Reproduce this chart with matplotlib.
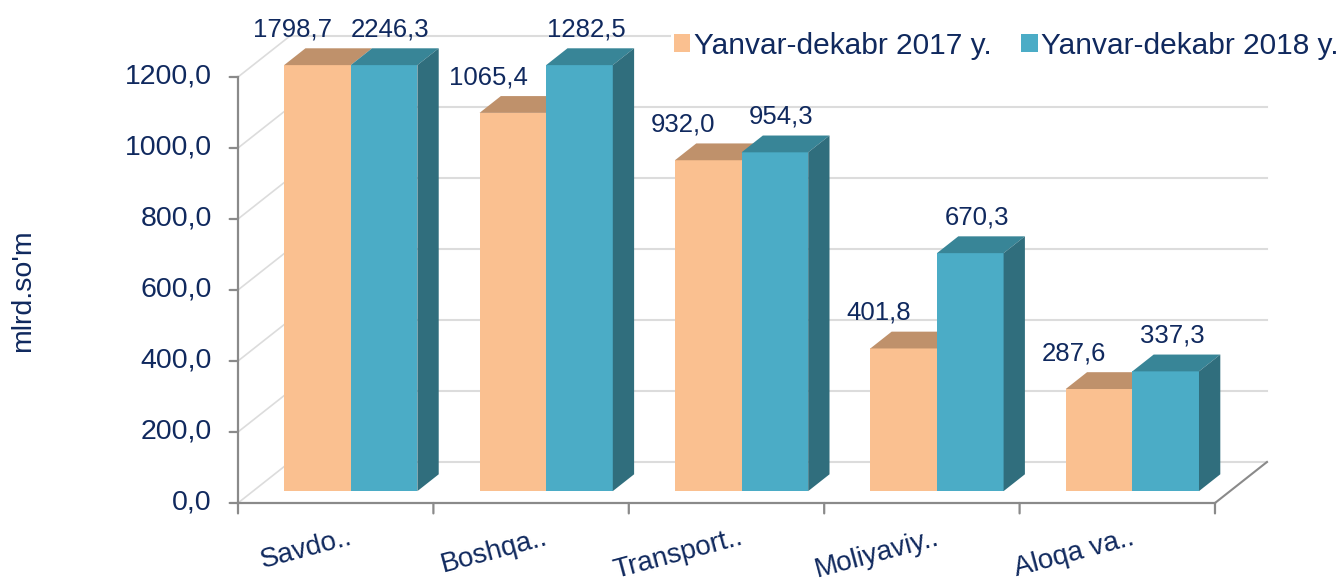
import matplotlib
matplotlib.use('Agg')
import matplotlib.pyplot as plt
from matplotlib.patches import Polygon, Patch
from matplotlib.transforms import offset_copy

plt.rcParams['font.family'] = ['Liberation Sans', 'DejaVu Sans']

# данные
categories = ['Savdo..', 'Boshqa..', 'Transport..', 'Moliyaviy..', 'Aloqa va..']
values_2017 = [1798.7, 1065.4, 932.0, 401.8, 287.6]
values_2018 = [2246.3, 1282.5, 954.3, 670.3, 337.3]
series_names = ['Yanvar-dekabr 2017 y.', 'Yanvar-dekabr 2018 y.']
y_ticks = [0, 200, 400, 600, 800, 1000, 1200]
AXIS_MAX = 1200

TXT = '#10295e'
ORANGE = ('#fac090', '#bf916b')
TEAL = ('#4bacc6', '#388597', '#306e7d')
GRID = '#dcdcdc'
AXC = '#8a8a8a'

# псевдо-3D: смещение задней стенки (в единицах осей)
DX = 0.266
DY = 115.5
F0, F1 = 0.29, 0.70
W = 0.341


def proj(x, v, f):
    return (x + f * DX, v + f * DY)


fig = plt.figure(figsize=(13.42, 5.84), dpi=100)
ax = fig.add_axes([0, 0, 1, 1])
ax.set_xlim(-1.718, 5.150)
ax.set_ylim(-228.2, 1416.9)
ax.axis('off')

n = len(categories)
left, right = -0.5, n - 0.5

# стенки и сетка
for t in y_ticks:
    bx0, by = proj(left, t, 1)
    bx1, _ = proj(right, t, 1)
    ax.plot([left, bx0], [t, by], color=GRID, lw=1.2, zorder=1)
    ax.plot([bx0, bx1], [by, by], color=GRID, lw=1.5, zorder=1)
rx, ry = proj(right, 0, 1)
ax.plot([right, rx], [0, ry], color=AXC, lw=1.5, zorder=1)

# оси
ax.plot([left, left], [0, AXIS_MAX], color=AXC, lw=1.6, zorder=2)
ax.plot([left, right], [0, 0], color=AXC, lw=1.6, zorder=2)
lab_left = offset_copy(ax.transData, fig, x=-26, y=0, units='dots')
for t in y_ticks:
    ax.text(left, t, f'{t:.1f}'.replace('.', ','), transform=lab_left,
            ha='right', va='center', fontsize=20.5, color=TXT)
    ax.annotate('', xy=(left, t), xytext=(-6, 0), textcoords='offset points',
                arrowprops=dict(arrowstyle='-', color=AXC, lw=1.6,
                                shrinkA=0, shrinkB=0))
for k in range(n + 1):
    ax.annotate('', xy=(left + k, 0), xytext=(0, -7.5), textcoords='offset points',
                arrowprops=dict(arrowstyle='-', color=AXC, lw=1.6,
                                shrinkA=0, shrinkB=0))

# подписи категорий
cat_tr = offset_copy(ax.transData, fig, x=18, y=-41, units='dots')
for i, c in enumerate(categories):
    ax.text(i, 0, c, transform=cat_tr, rotation=15, rotation_mode='anchor',
            ha='right', va='baseline', fontsize=20, color=TXT)


def bar3d(x0, x1, h, colors, side=True):
    front = [proj(x0, 0, F0), proj(x1, 0, F0), proj(x1, h, F0), proj(x0, h, F0)]
    top = [proj(x0, h, F0), proj(x1, h, F0), proj(x1, h, F1), proj(x0, h, F1)]
    ax.add_patch(Polygon(front, closed=True, fc=colors[0], ec='none', zorder=3))
    ax.add_patch(Polygon(top, closed=True, fc=colors[1], ec='none', zorder=3))
    if side:
        sd = [proj(x1, 0, F0), proj(x1, h, F0), proj(x1, h, F1), proj(x1, 0, F1)]
        ax.add_patch(Polygon(sd, closed=True, fc=colors[2], ec='none', zorder=3))


lab_tr = offset_copy(ax.transData, fig, x=0, y=12, units='dots')
for i in range(n):
    h1 = min(values_2017[i], AXIS_MAX)
    h2 = min(values_2018[i], AXIS_MAX)
    bar3d(i - W, i, h1, ORANGE, side=False)
    bar3d(i, i + W, h2, TEAL)
    lx, ly = proj(i - W / 2 - 0.05, h1, F1)
    ax.text(lx - F1 * DX, ly, f'{values_2017[i]:.1f}'.replace('.', ','),
            transform=lab_tr, ha='center', va='baseline', fontsize=18.5, color=TXT)
    lx, ly = proj(i + W / 2 + 0.11, h2, F1)
    ax.text(lx - F1 * DX, ly, f'{values_2018[i]:.1f}'.replace('.', ','),
            transform=lab_tr, ha='center', va='baseline', fontsize=18.5, color=TXT)

fig.text(23 / 1342, 1 - 291 / 584, "mlrd.so'm", rotation=90, ha='center', va='center',
         fontsize=20.5, color=TXT)

handles = [Patch(fc=ORANGE[0], ec='none'), Patch(fc=TEAL[0], ec='none')]
leg = fig.legend(handles, series_names, loc='center right',
                 bbox_to_anchor=(1.0, 1 - 46 / 584), ncol=2, fontsize=21.5,
                 frameon=True, facecolor='white', edgecolor='none', framealpha=1,
                 handlelength=0.55, handleheight=0.55, handletextpad=0.12,
                 columnspacing=1.0, borderpad=0.1, borderaxespad=0.0)
for t in leg.get_texts():
    t.set_color(TXT)

fig.savefig('out.png', dpi=100, facecolor='white')
